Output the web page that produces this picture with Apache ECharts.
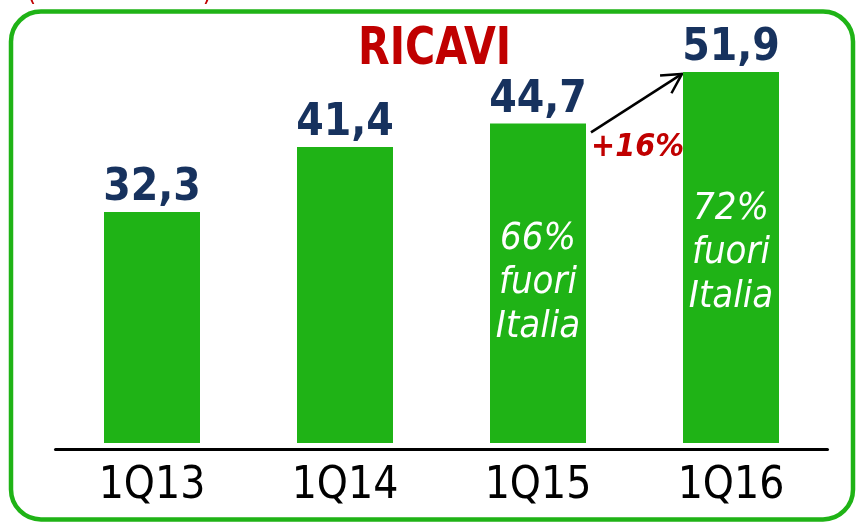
<!DOCTYPE html>
<html><head><meta charset="utf-8">
<script src="https://cdn.jsdelivr.net/npm/echarts@6/dist/echarts.min.js"></script>
<style>html,body{margin:0;padding:0;background:#fff}#c{width:856px;height:522px}</style>
</head><body><div id="c"></div>
<script>
const categories = ['1Q13', '1Q14', '1Q15', '1Q16'];
const revenues = [32.3, 41.4, 44.7, 51.9];
const valueLabels = ['32,3', '41,4', '44,7', '51,9'];
const insideNotes = ['', '', '66%\nfuori\nItalia', '72%\nfuori\nItalia'];
const growthLabel = '+16%';
const titleText = 'RICAVI';
const unitText = '(milioni di euro)';

const COND = "'DejaVu Sans Condensed', 'DejaVu Sans', sans-serif";
const GREEN = '#1fb316';
const NAVY = '#17325e';
const RED = '#c00000';

const chart = echarts.init(document.getElementById('c'), null, { renderer: 'canvas' });
const option = {
  animation: false,
  backgroundColor: '#fff',
  grid: { left: 55.5, right: 28.5, top: 14, bottom: 79 },
  xAxis: {
    type: 'category', data: categories, offset: 6,
    axisLine: { onZero: false, lineStyle: { color: '#000', width: 3 } },
    axisTick: { show: false },
    axisLabel: { color: '#000', fontSize: 44, fontFamily: COND, margin: 16 }
  },
  yAxis: { type: 'value', min: 0, max: 60, show: false, splitLine: { show: false } },
  series: [
    {
      type: 'bar', data: revenues, barWidth: 96,
      itemStyle: { color: GREEN },
      label: {
        show: true, position: 'top', distance: 1,
        formatter: p => valueLabels[p.dataIndex],
        color: NAVY, fontSize: 44, fontWeight: 'bold', fontFamily: COND
      }
    },
    {
      type: 'bar', data: revenues, barWidth: 96, barGap: '-100%',
      itemStyle: { color: 'rgba(0,0,0,0)' },
      silent: true,
      label: {
        show: true, position: 'inside',
        formatter: p => insideNotes[p.dataIndex],
        color: '#fff', fontSize: 38, fontStyle: 'italic', fontFamily: COND, lineHeight: 44
      },
      labelLayout: p => (p.dataIndex === 3 ? { dy: -4 } : {})
    }
  ]
};
chart.setOption(option);

const p3 = chart.convertToPixel({ seriesIndex: 0 }, [2, revenues[2]]);
const p4 = chart.convertToPixel({ seriesIndex: 0 }, [3, revenues[3]]);
const half = 48;
const sx = p3[0] + half + 5, sy = p3[1] + 9;
const ex = p4[0] - half - 1, ey = p4[1] + 2;
const ang = Math.atan2(ey - sy, ex - sx);
const hl = 22, ha = 0.5;
const h1 = [ex - hl * Math.cos(ang - ha), ey - hl * Math.sin(ang - ha)];
const h2 = [ex - hl * Math.cos(ang + ha), ey - hl * Math.sin(ang + ha)];

chart.setOption({
  graphic: [
    {
      type: 'rect', z: -1, silent: true,
      shape: { x: 11, y: 11.5, width: 842, height: 508, r: 30 },
      style: { fill: 'none', stroke: '#1fb316', lineWidth: 4.5 }
    },
    {
      type: 'text', x: 27, y: -7, silent: true,
      style: { text: unitText, fill: RED, font: "26px " + COND, textVerticalAlign: 'middle' }
    },
    {
      type: 'text', x: 358, y: 24, scaleX: 0.88, silent: true,
      style: { text: titleText, fill: RED, font: "bold 52px " + COND, textVerticalAlign: 'top' }
    },
    {
      type: 'line', silent: true,
      shape: { x1: sx, y1: sy, x2: ex, y2: ey },
      style: { stroke: '#000', lineWidth: 2.5 }
    },
    {
      type: 'polyline', silent: true,
      shape: { points: [h1, [ex, ey], h2] },
      style: { stroke: '#000', lineWidth: 2.5, fill: 'none' }
    },
    {
      type: 'text', x: p3[0] + half + 5, y: p3[1] + 8, silent: true,
      style: { text: growthLabel, fill: RED, font: "italic bold 32px " + COND, textVerticalAlign: 'top' }
    }
  ]
});
</script>
</body></html>
